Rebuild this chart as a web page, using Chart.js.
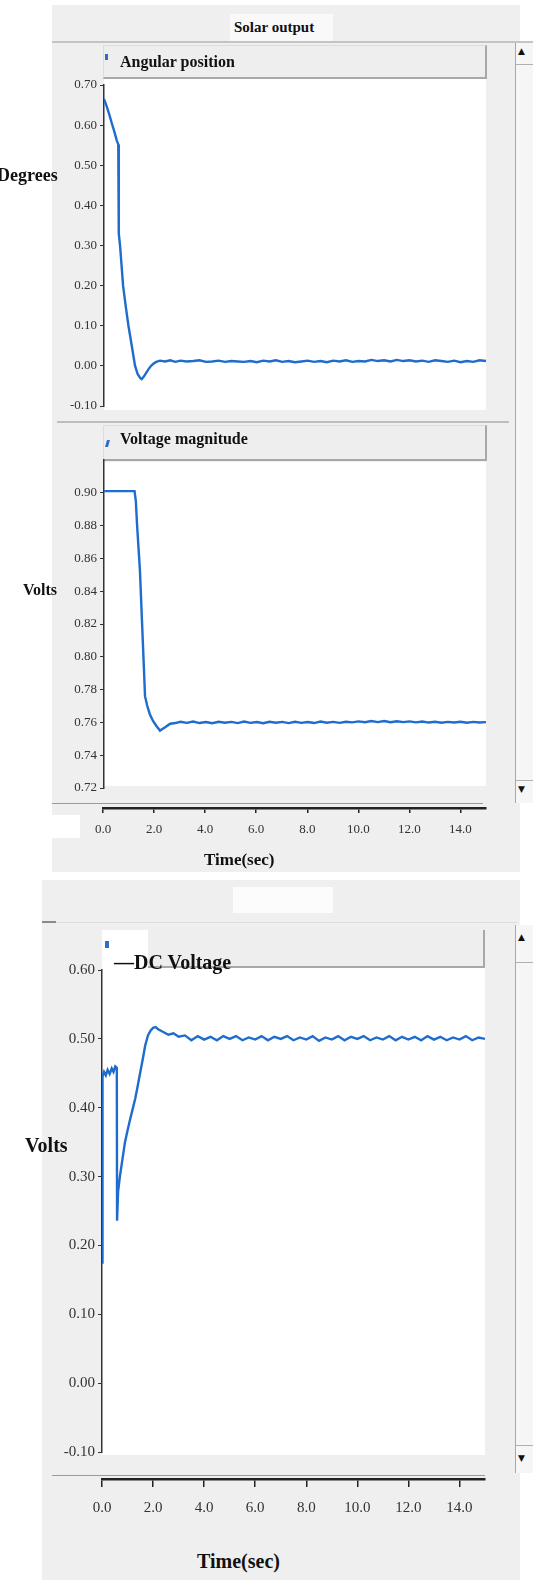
<!DOCTYPE html>
<html>
<head>
<meta charset="utf-8">
<script src="https://cdn.jsdelivr.net/npm/chart.js@4/dist/chart.umd.min.js"></script>
<style>
  html,body{margin:0;padding:0;background:#fff;}
  body{width:533px;height:1580px;position:relative;overflow:hidden;font-family:"Liberation Serif",serif;}
  .a{position:absolute;}
  .t{position:absolute;font-weight:bold;color:#111;white-space:nowrap;line-height:1;}
  canvas{position:absolute;left:0;}
</style>
</head>
<body>
<script>
// ---------- DATA ----------
const xTickValues = [0, 2, 4, 6, 8, 10, 12, 14];
const xTickLabels = ['0.0', '2.0', '4.0', '6.0', '8.0', '10.0', '12.0', '14.0'];

const angleTickValues = [0.70, 0.60, 0.50, 0.40, 0.30, 0.20, 0.10, 0.00, -0.10];
const angleTickLabels = ['0.70', '0.60', '0.50', '0.40', '0.30', '0.20', '0.10', '0.00', '-0.10'];

const voltTickValues = [0.90, 0.88, 0.86, 0.84, 0.82, 0.80, 0.78, 0.76, 0.74, 0.72];
const voltTickLabels = ['0.90', '0.88', '0.86', '0.84', '0.82', '0.80', '0.78', '0.76', '0.74', '0.72'];

const dcTickValues = [0.60, 0.50, 0.40, 0.30, 0.20, 0.10, 0.00, -0.10];
const dcTickLabels = ['0.60', '0.50', '0.40', '0.30', '0.20', '0.10', '0.00', '-0.10'];

// shared time stamps of the settled part (s)
const steadyTime = [2.4, 2.6, 2.8, 3.0, 3.25, 3.5, 3.75, 4.0, 4.25, 4.5, 4.75, 5.0, 5.25, 5.5, 5.75, 6.0,
  6.25, 6.5, 6.75, 7.0, 7.25, 7.5, 7.75, 8.0, 8.25, 8.5, 8.75, 9.0, 9.25, 9.5, 9.75, 10.0,
  10.25, 10.5, 10.75, 11.0, 11.25, 11.5, 11.75, 12.0, 12.25, 12.5, 12.75, 13.0, 13.25, 13.5, 13.75, 14.0,
  14.25, 14.5, 14.75, 15.0];

// Angular position (degrees)
const angleTime = [0, 0.1, 0.2, 0.3, 0.4, 0.5, 0.56, 0.58, 0.63, 0.69, 0.75, 0.85, 0.96, 1.09, 1.22, 1.32, 1.42, 1.48, 1.55, 1.65, 1.75, 1.85, 1.95, 2.05, 2.2];
const angleValues = [0.665, 0.648, 0.628, 0.606, 0.585, 0.562, 0.552, 0.330, 0.300, 0.250, 0.200, 0.150, 0.100, 0.050, 0.000, -0.020, -0.030, -0.033, -0.028, -0.018, -0.008, 0.000, 0.006, 0.010, 0.013];
const angleSteady = [0.011, 0.014, 0.010, 0.013, 0.011, 0.012, 0.014, 0.010, 0.011, 0.013, 0.010, 0.012, 0.011,
  0.010, 0.012, 0.009, 0.013, 0.011, 0.014, 0.010, 0.012, 0.009, 0.011, 0.013, 0.010, 0.012,
  0.009, 0.013, 0.011, 0.014, 0.010, 0.012, 0.011, 0.015, 0.012, 0.014, 0.011, 0.015, 0.012,
  0.014, 0.011, 0.013, 0.010, 0.014, 0.012, 0.010, 0.013, 0.009, 0.012, 0.010, 0.014, 0.012];

// Voltage magnitude (volts)
const voltTime = [0, 0.5, 1.0, 1.2, 1.25, 1.3, 1.41, 1.57, 1.61, 1.7, 1.8, 1.92, 2.05, 2.2];
const voltValues = [0.901, 0.901, 0.901, 0.901, 0.895, 0.880, 0.853, 0.792, 0.776, 0.770, 0.765, 0.761, 0.758, 0.755];
const voltSteady = [0.7570, 0.7592, 0.7596, 0.7604, 0.7597, 0.7605, 0.7596, 0.7602, 0.7595, 0.7604, 0.7598, 0.7603, 0.7596,
  0.7605, 0.7597, 0.7602, 0.7595, 0.7604, 0.7598, 0.7603, 0.7596, 0.7604, 0.7597, 0.7602, 0.7596, 0.7605,
  0.7598, 0.7603, 0.7597, 0.7604, 0.7600, 0.7606, 0.7601, 0.7608, 0.7602, 0.7608, 0.7601, 0.7607, 0.7602,
  0.7606, 0.7600, 0.7605, 0.7599, 0.7604, 0.7598, 0.7603, 0.7599, 0.7604, 0.7598, 0.7603, 0.7599, 0.7602];

// DC voltage (volts)
const dcTime = [0, 0.02, 0.08, 0.15, 0.22, 0.3, 0.38, 0.45, 0.52, 0.58, 0.59, 0.63, 0.7, 0.8, 0.9, 1.0, 1.1, 1.2, 1.3, 1.4, 1.5, 1.6, 1.69, 1.8, 1.9, 2.0, 2.1, 2.2];
const dcValues = [0.175, 0.445, 0.452, 0.447, 0.455, 0.449, 0.457, 0.452, 0.460, 0.458, 0.236, 0.278, 0.300, 0.325, 0.350, 0.367, 0.383, 0.398, 0.413, 0.432, 0.452, 0.471, 0.490, 0.505, 0.512, 0.516, 0.517, 0.514];
const dcSteady = [0.510, 0.506, 0.508, 0.503, 0.505, 0.498, 0.504, 0.499, 0.503, 0.498, 0.504, 0.500, 0.504,
  0.498, 0.502, 0.499, 0.504, 0.498, 0.503, 0.500, 0.504, 0.498, 0.502, 0.499, 0.504, 0.497,
  0.502, 0.499, 0.504, 0.498, 0.503, 0.500, 0.504, 0.498, 0.502, 0.499, 0.504, 0.498, 0.503,
  0.499, 0.503, 0.498, 0.504, 0.499, 0.503, 0.498, 0.502, 0.499, 0.504, 0.498, 0.502, 0.500];
</script>

<!-- background panels -->
<div class="a" style="left:52px;top:5px;width:468px;height:867px;background:#efefef;"></div>
<div class="a" style="left:230px;top:14px;width:103px;height:27px;background:#f9f9f9;"></div>
<div class="a" style="left:52px;top:41px;width:481px;height:2px;background:#c4c4c4;"></div>
<div class="a" style="left:103px;top:45px;width:381px;height:31px;background:#eeeeee;border:1px solid #dcdcdc;border-right:2px solid #a8a8a8;border-bottom:2px solid #a8a8a8;"></div>
<div class="a" style="left:104px;top:79px;width:382px;height:331px;background:#fff;"></div>
<div class="a" style="left:57px;top:421px;width:452px;height:2px;background:#bdbdbd;"></div>
<div class="a" style="left:103px;top:425px;width:381px;height:33px;background:#eeeeee;border:1px solid #dcdcdc;border-right:2px solid #a8a8a8;border-bottom:2px solid #a8a8a8;"></div>
<div class="a" style="left:104px;top:462px;width:382px;height:324px;background:#fff;"></div>
<div class="a" style="left:52px;top:803px;width:431px;height:1px;background:#9a9a9a;"></div>
<div class="a" style="left:52px;top:815px;width:28px;height:23px;background:#fff;"></div>
<!-- scrollbar A -->
<div class="a" style="left:515px;top:43px;width:18px;height:760px;background:#f6f6f6;border-left:1px solid #a8a8a8;"></div>
<div class="a" style="left:515px;top:64px;width:18px;height:1px;background:#b0b0b0;"></div>
<div class="a" style="left:515px;top:780px;width:18px;height:1px;background:#b0b0b0;"></div>
<div class="t" style="left:518px;top:47px;font-size:9px;font-family:'DejaVu Sans';">&#9650;</div>
<div class="t" style="left:518px;top:785px;font-size:9px;font-family:'DejaVu Sans';">&#9660;</div>

<!-- panel B -->
<div class="a" style="left:42px;top:880px;width:478px;height:700px;background:#efefef;"></div>
<div class="a" style="left:233px;top:887px;width:100px;height:26px;background:#fcfcfc;"></div>
<div class="a" style="left:42px;top:922px;width:475px;height:1px;background:#dddddd;"></div>
<div class="a" style="left:42px;top:921px;width:14px;height:2px;background:#8a8a8a;"></div>
<div class="a" style="left:102px;top:930px;width:383px;height:525px;background:#fff;"></div>
<div class="a" style="left:148px;top:930px;width:335px;height:36px;background:#eeeeee;border-right:2px solid #a8a8a8;border-bottom:2px solid #a8a8a8;"></div>
<div class="a" style="left:52px;top:1475px;width:433px;height:1px;background:#9a9a9a;"></div>
<div class="a" style="left:515px;top:925px;width:18px;height:548px;background:#f6f6f6;border-left:1px solid #a8a8a8;"></div>
<div class="a" style="left:515px;top:962px;width:18px;height:1px;background:#b0b0b0;"></div>
<div class="a" style="left:515px;top:1445px;width:18px;height:1px;background:#b0b0b0;"></div>
<div class="t" style="left:518px;top:933px;font-size:9px;font-family:'DejaVu Sans';">&#9650;</div>
<div class="t" style="left:518px;top:1454px;font-size:9px;font-family:'DejaVu Sans';">&#9660;</div>

<canvas id="c1" width="533" height="360" style="top:60px;"></canvas>
<canvas id="c2" width="533" height="360" style="top:440px;"></canvas>
<canvas id="a2" width="533" height="70" style="top:780px;"></canvas>
<canvas id="c3" width="533" height="520" style="top:950px;"></canvas>
<canvas id="a3" width="533" height="70" style="top:1460px;"></canvas>

<!-- texts -->
<div class="t" style="left:234px;top:20px;font-size:15px;">Solar output</div>
<div class="a" style="left:105px;top:54px;width:3px;height:6px;background:#2a6fc9;"></div>
<div class="t" style="left:120px;top:54px;font-size:16px;">Angular position</div>
<div class="a" style="left:106px;top:440px;width:3px;height:7px;background:#2a6fc9;transform:skewX(-15deg);"></div>
<div class="t" style="left:120px;top:431px;font-size:16px;">Voltage magnitude</div>
<div class="t" style="left:-3px;top:166px;font-size:18px;">Degrees</div>
<div class="t" style="left:23px;top:582px;font-size:16px;">Volts</div>
<div class="t" style="left:204px;top:851px;font-size:17px;">Time(sec)</div>

<div class="a" style="left:105px;top:941px;width:4px;height:7px;background:#2a6fc9;"></div>
<div class="t" style="left:114px;top:952px;font-size:20px;">&#8212;DC Voltage</div>
<div class="t" style="left:25px;top:1135px;font-size:20px;">Volts</div>
<div class="t" style="left:197px;top:1551px;font-size:20px;">Time(sec)</div>

<script>
const LINE = '#1e6ccd';
const FONT = 'Liberation Serif';

function pts(t, v) { return t.map((x, i) => ({ x: x, y: v[i] })); }

function yAxis(min, max, vals, labels, width, size) {
  return {
    type: 'linear', min: min, max: max,
    afterFit: s => { s.width = width; },
    afterBuildTicks: s => { s.ticks = vals.map(v => ({ value: v })); },
    ticks: { callback: v => labels[vals.indexOf(v)], font: { family: FONT, size: size }, color: '#333', padding: 3 },
    grid: { drawOnChartArea: false, drawTicks: true, tickLength: 4, color: '#333' },
    border: { display: true, color: '#333', width: 1.5 }
  };
}

function lineChart(id, t, v, y, pad) {
  new Chart(document.getElementById(id), {
    type: 'line',
    data: { datasets: [{ data: pts(t, v), borderColor: LINE, borderWidth: 2.4, pointRadius: 0, tension: 0, fill: false }] },
    options: {
      responsive: false, animation: false,
      layout: { padding: pad },
      plugins: { legend: { display: false }, tooltip: { enabled: false } },
      scales: { x: { type: 'linear', min: 0, max: 15, display: false }, y: y }
    }
  });
}

function axisChart(id, left, right, h, tl, pd, size) {
  new Chart(document.getElementById(id), {
    type: 'scatter',
    data: { datasets: [] },
    options: {
      responsive: false, animation: false,
      layout: { padding: { left: left, right: right, top: 0, bottom: 0 } },
      plugins: { legend: { display: false }, tooltip: { enabled: false } },
      scales: {
        x: {
          type: 'linear', min: 0, max: 15, position: 'bottom',
          afterFit: s => { s.height = h; },
          afterBuildTicks: s => { s.ticks = xTickValues.map(v => ({ value: v })); },
          ticks: { callback: v => xTickLabels[xTickValues.indexOf(v)], font: { family: FONT, size: size }, color: '#333', padding: pd, maxRotation: 0 },
          grid: { drawOnChartArea: false, drawTicks: true, tickLength: tl, color: '#222', lineWidth: 1.5 },
          border: { display: true, color: '#222', width: 2.5 }
        },
        y: { display: false, min: 0, max: 1 }
      }
    }
  });
}

lineChart('c1', angleTime.concat(steadyTime), angleValues.concat(angleSteady),
  yAxis(-0.10, 0.70, angleTickValues, angleTickLabels, 104, 13), { top: 25, bottom: 14, left: 0, right: 47 });
lineChart('c2', voltTime.concat(steadyTime), voltValues.concat(voltSteady),
  yAxis(0.72, 0.92, voltTickValues, voltTickLabels, 104, 13), { top: 20, bottom: 12, left: 0, right: 47 });
axisChart('a2', 103, 47, 42, 5, 9, 13);
lineChart('c3', dcTime.concat(steadyTime), dcValues.concat(dcSteady),
  yAxis(-0.10, 0.60, dcTickValues, dcTickLabels, 102, 15), { top: 20, bottom: 18, left: 0, right: 48 });
axisChart('a3', 102, 48, 51, 8, 12, 15);
</script>
</body>
</html>
